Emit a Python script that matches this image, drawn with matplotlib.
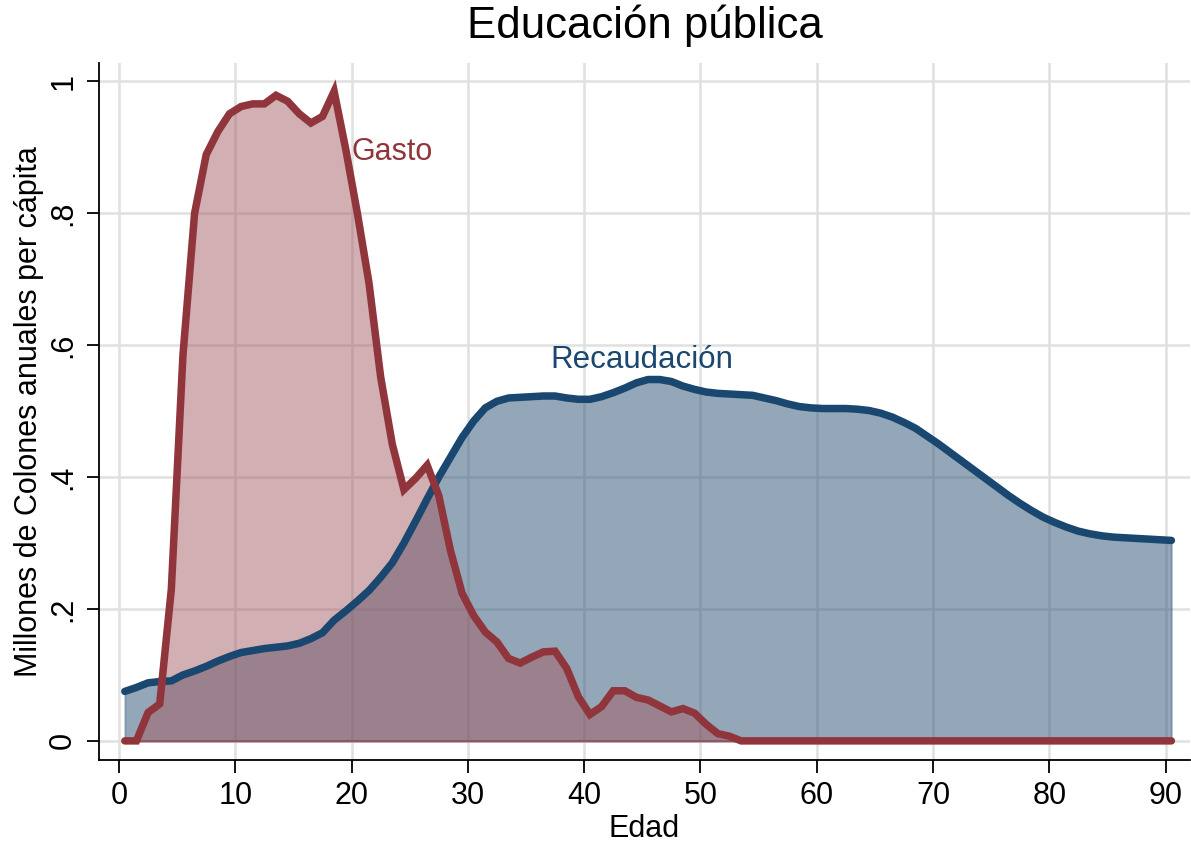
import numpy as np
import matplotlib
matplotlib.use("Agg")
import matplotlib.pyplot as plt
from matplotlib.ticker import FixedLocator

plt.rcParams['font.family'] = ['Liberation Sans', 'DejaVu Sans']

# Ages (plotted at mid-year)
edad = np.arange(91) + 0.5

gasto = [0.0, 0.0, 0.043, 0.056, 0.23, 0.585, 0.80, 0.889, 0.924, 0.951,
         0.962, 0.966, 0.966, 0.979, 0.970, 0.951, 0.937, 0.947, 0.985, 0.897,
         0.80, 0.694, 0.552, 0.45, 0.381, 0.398, 0.418, 0.372, 0.289, 0.224,
         0.19, 0.165, 0.150, 0.125, 0.118, 0.127, 0.135, 0.136, 0.110, 0.067,
         0.040, 0.052, 0.076, 0.076, 0.066, 0.062, 0.053, 0.044, 0.049, 0.042,
         0.025, 0.011, 0.007, 0.0, 0.0, 0.0, 0.0, 0.0, 0.0, 0.0,
         0.0, 0.0, 0.0, 0.0, 0.0, 0.0, 0.0, 0.0, 0.0, 0.0,
         0.0, 0.0, 0.0, 0.0, 0.0, 0.0, 0.0, 0.0, 0.0, 0.0,
         0.0, 0.0, 0.0, 0.0, 0.0, 0.0, 0.0, 0.0, 0.0, 0.0, 0.0]

recaudacion = [0.075, 0.081, 0.088, 0.090, 0.091, 0.100, 0.106, 0.113, 0.121, 0.128,
               0.134, 0.137, 0.140, 0.142, 0.144, 0.148, 0.155, 0.164, 0.183, 0.197,
               0.212, 0.228, 0.248, 0.270, 0.300, 0.333, 0.367, 0.400, 0.430, 0.460,
               0.485, 0.505, 0.515, 0.520, 0.521, 0.522, 0.523, 0.523, 0.520, 0.518,
               0.518, 0.522, 0.528, 0.535, 0.543, 0.548, 0.548, 0.545, 0.538, 0.533,
               0.529, 0.527, 0.526, 0.525, 0.524, 0.520, 0.516, 0.511, 0.507, 0.505,
               0.504, 0.504, 0.504, 0.503, 0.501, 0.497, 0.491, 0.483, 0.474, 0.462,
               0.450, 0.437, 0.424, 0.411, 0.398, 0.385, 0.372, 0.360, 0.349, 0.339,
               0.331, 0.324, 0.318, 0.314, 0.311, 0.309, 0.308, 0.307, 0.306, 0.305, 0.304]

xticks = [0, 10, 20, 30, 40, 50, 60, 70, 80, 90]
yticks = [0, 0.2, 0.4, 0.6, 0.8, 1.0]
ytick_labels = ["0", ".2", ".4", ".6", ".8", "1"]

NAVY = "#1A476F"
MAROON = "#90353B"

W, H = 1191, 842
fig = plt.figure(figsize=(W / 100, H / 100), dpi=100)
ax = fig.add_axes([99 / W, 1 - 760 / H, (1190 - 99) / W, (760 - 63) / H])

ax.set_xlim(-1.72, 92.1)
ax.set_ylim(-0.029, 1.028)

ax.grid(True, color="#E0E0E0", linewidth=1.8, zorder=0)
ax.set_axisbelow(True)

ax.fill_between(edad, 0, recaudacion, facecolor=(43/255, 81/255, 115/255, 0.5),
                edgecolor=(43/255, 81/255, 115/255, 0.35), linewidth=1.5, zorder=2)
ax.fill_between(edad, 0, gasto, facecolor=(162/255, 88/255, 95/255, 0.48),
                edgecolor=(144/255, 53/255, 59/255, 0.6), linewidth=1.5, zorder=3)
ax.plot(edad, recaudacion, color=NAVY, linewidth=5.4, solid_capstyle="round",
        solid_joinstyle="round", zorder=4)
ax.plot(edad, gasto, color=MAROON, linewidth=5.4, solid_capstyle="round",
        solid_joinstyle="miter", zorder=5)

ax.text(20.0, 0.893, "Gasto", color=MAROON, fontsize=22, ha="left", va="center", zorder=6)
ax.text(45.0, 0.577, "Recaudación", color=NAVY, fontsize=22.5, ha="center", va="center", zorder=6)

ax.xaxis.set_major_locator(FixedLocator(xticks))
ax.set_yticks(yticks)
ax.set_yticklabels(ytick_labels, rotation=90, va="center")
ax.tick_params(axis="both", labelsize=22, length=9, width=1.3, color="black", pad=6)

for s in ["top", "right"]:
    ax.spines[s].set_visible(False)
for s in ["left", "bottom"]:
    ax.spines[s].set_linewidth(1.3)

ax.set_xlabel("Edad", fontsize=22, labelpad=2)
ax.set_ylabel("Millones de Colones anuales per cápita", fontsize=22, labelpad=3)
ax.set_title("Educación pública", fontsize=31.5, pad=18)

fig.savefig("out.png", dpi=100)
